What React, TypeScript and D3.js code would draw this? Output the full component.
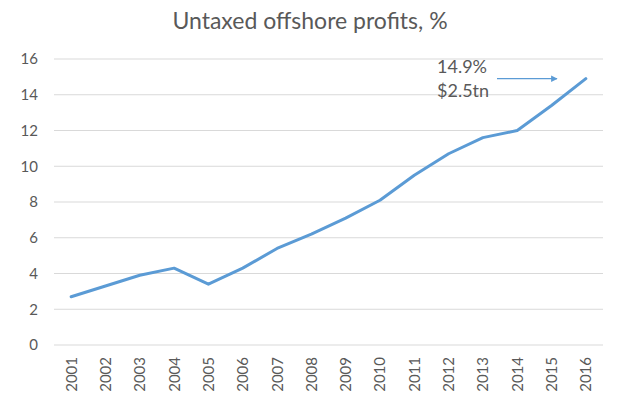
import React from "react";
import * as d3 from "d3";

const years = ["2001","2002","2003","2004","2005","2006","2007","2008","2009","2010","2011","2012","2013","2014","2015","2016"];
const values = [2.7, 3.3, 3.9, 4.3, 3.4, 4.3, 5.4, 6.2, 7.1, 8.1, 9.5, 10.7, 11.6, 12.0, 13.4, 14.9];
const yTicks = [0, 2, 4, 6, 8, 10, 12, 14, 16];
const title = "Untaxed offshore profits, %";
const annotation = ["14.9%", "$2.5tn"];

const W = 626, H = 420;
const left = 54, right = 603, top = 59, bottom = 345;
const font = "Lato, 'Open Sans', sans-serif";
const textColor = "#595959";

export default function App() {
  const x = d3.scaleBand<string>().domain(years).range([left, right]);
  const y = d3.scaleLinear().domain([0, 16]).range([bottom, top]);
  const line = d3.line<number>()
    .x((_, i) => (x(years[i]) as number) + x.bandwidth() / 2)
    .y(d => y(d));
  const arrowY = y(14.9);
  return (
    <svg width={W} height={H} style={{ position: "absolute", left: 0, top: 0, background: "#fff" }}>
      <defs>
        <marker id="ah" viewBox="0 0 10 10" refX="9" refY="5" markerWidth="5" markerHeight="5" orient="auto">
          <path d="M0,0 L10,5 L0,10 z" fill="#5B9BD5" />
        </marker>
      </defs>
      <rect width={W} height={H} fill="#fff" />
      <text x={310} y={29} textAnchor="middle" fontFamily={font} fontSize={23} fill={textColor}>{title}</text>
      {yTicks.map(t => (
        <g key={t}>
          <line x1={left} x2={right} y1={y(t)} y2={y(t)} stroke="#d9d9d9" strokeWidth={1} />
          <text x={38} y={y(t)} dy="0.35em" textAnchor="end" fontFamily={font} fontSize={15} fill={textColor}>{t}</text>
        </g>
      ))}
      {years.map(yr => {
        const cx = (x(yr) as number) + x.bandwidth() / 2;
        return (
          <text key={yr} transform={`translate(${cx + 5.5},357) rotate(-90)`} textAnchor="end"
            fontFamily={font} fontSize={15} fill={textColor}>{yr}</text>
        );
      })}
      <path d={line(values) || ""} fill="none" stroke="#5B9BD5" strokeWidth={3} strokeLinejoin="round" strokeLinecap="round" />
      <text x={437} y={73} fontFamily={font} fontSize={18} fill={textColor}>{annotation[0]}</text>
      <text x={437} y={97} fontFamily={font} fontSize={18} fill={textColor}>{annotation[1]}</text>
      <line x1={497} x2={557} y1={arrowY} y2={arrowY} stroke="#5B9BD5" strokeWidth={1.3} markerEnd="url(#ah)" />
    </svg>
  );
}
